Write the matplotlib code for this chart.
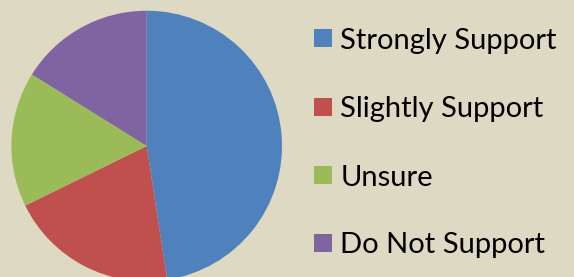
import matplotlib
matplotlib.use("Agg")
import matplotlib.pyplot as plt
from matplotlib.patches import Rectangle

categories = ["Strongly Support", "Slightly Support", "Unsure", "Do Not Support"]
values = [59, 25, 20, 20]
colors = ["#4F81BD", "#C0504D", "#9BBB59", "#8064A2"]
bg = "#DDD9C3"

W, H = 574, 277
fig = plt.figure(figsize=(W / 100, H / 100), dpi=100, facecolor=bg)

# pie axes placed in pixel terms: centre (146.7, 146 from top), radius 135.3
cx, cy, r = 146.7, H - 146.0, 135.3
ax = fig.add_axes([(cx - r) / W, (cy - r) / H, 2 * r / W, 2 * r / H])
ax.pie(values, colors=colors, startangle=90, counterclock=False,
       wedgeprops=dict(linewidth=0), radius=1)
ax.set_xlim(-1, 1)
ax.set_ylim(-1, 1)
ax.set_aspect("equal")
ax.axis("off")

# legend, one row per category
row_y = [38.3, 106.7, 175.0, 242.7]
for cat, col, y in zip(categories, colors, row_y):
    fig.add_artist(Rectangle(((314) / W, (H - y - 9) / H), 18 / W, 18 / H,
                             transform=fig.transFigure, facecolor=col, edgecolor="none"))
    fig.text(340.5 / W, (H - y) / H, cat, fontsize=21, family="Lato",
             va="center_baseline", ha="left", color="black")

fig.savefig("out.png", dpi=100, facecolor=bg)
